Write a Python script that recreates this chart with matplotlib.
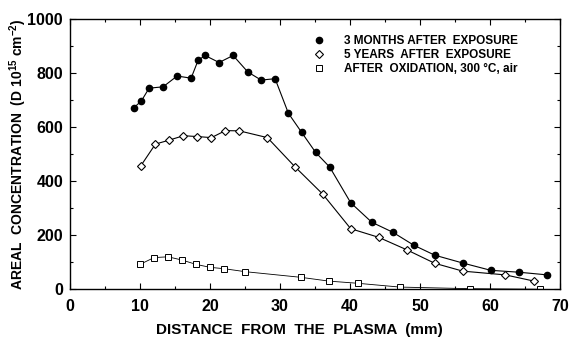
import matplotlib
matplotlib.use("Agg")
import matplotlib.pyplot as plt
from matplotlib.ticker import MultipleLocator

plt.rcParams['font.family'] = ['Liberation Sans', 'DejaVu Sans']
plt.rcParams['mathtext.fontset'] = 'custom'
plt.rcParams['mathtext.rm'] = 'Liberation Sans:bold'
plt.rcParams['mathtext.it'] = 'Liberation Sans:bold'
plt.rcParams['mathtext.bf'] = 'Liberation Sans:bold'

x_3m = [9.1, 10.2, 11.3, 13.3, 15.3, 17.3, 18.3, 19.3, 21.3, 23.3, 25.4, 27.3, 29.3,
        31.2, 33.1, 35.1, 37.1, 40.1, 43.1, 46.1, 49.1, 52.1, 56.1, 60.1, 64.1, 68.2]
y_3m = [672, 698, 745, 750, 790, 782, 848, 866, 840, 866, 805, 775, 780,
        652, 581, 507, 453, 321, 249, 212, 164, 127, 98, 71, 64, 54]

x_5y = [10.1, 12.2, 14.2, 16.2, 18.2, 20.2, 22.2, 24.2, 28.2, 32.1, 36.1,
        40.1, 44.1, 48.1, 52.1, 56.1, 62.2, 66.3]
y_5y = [457, 538, 553, 569, 566, 562, 588, 587, 562, 455, 353,
        225, 193, 147, 97, 68, 54, 31]

x_ox = [10, 12, 14, 16, 18, 20, 22, 25, 33, 37, 41.1, 47.1, 57.1, 67.2]
y_ox = [93, 118, 121, 109, 93, 82, 77, 66, 45, 31, 23, 9, 3, 1]

labels = ['3 MONTHS AFTER  EXPOSURE', '5 YEARS  AFTER  EXPOSURE',
          'AFTER  OXIDATION, 300 \u00b0C, air']

fig = plt.figure(figsize=(5.7, 3.38), dpi=100)
ax = fig.add_axes([0.1228, 0.1435, 0.8597, 0.7995])

lw = 0.8
ax.plot(x_3m, y_3m, '-o', color='black', lw=lw, ms=4.5, mfc='black', mec='black', label=labels[0])
ax.plot(x_5y, y_5y, '-D', color='black', lw=lw, ms=4.5, mfc='white', mec='black', mew=0.8, label=labels[1])
ax.plot(x_ox, y_ox, '-s', color='black', lw=0.6, ms=4, mfc='white', mec='black', mew=0.7, label=labels[2])

ax.set_xlim(0, 70)
ax.set_ylim(0, 1000)
ax.xaxis.set_major_locator(MultipleLocator(10))
ax.xaxis.set_minor_locator(MultipleLocator(5))
ax.yaxis.set_major_locator(MultipleLocator(200))
ax.yaxis.set_minor_locator(MultipleLocator(100))
ax.tick_params(which='both', direction='in', top=True, right=True, width=0.8)
ax.tick_params(which='major', length=4, labelsize=11.5)
ax.tick_params(axis='x', which='major', pad=7)
ax.tick_params(axis='y', which='major', pad=5)
ax.tick_params(which='minor', length=2.5)
for lab in ax.get_xticklabels() + ax.get_yticklabels():
    lab.set_fontweight('bold')
for s in ax.spines.values():
    s.set_linewidth(1.0)

ax.set_xlabel('DISTANCE  FROM  THE  PLASMA  (mm)', fontsize=11, fontweight='bold')
ax.xaxis.set_label_coords(0.469, -0.15, transform=ax.transAxes)
ax.xaxis.label.set_va('center')
ax.set_ylabel('AREAL  CONCENTRATION  (D 10$^{15}$ cm$^{-2}$)', fontsize=10, fontweight='bold')
ax.yaxis.set_label_coords(-0.106, 0.5, transform=ax.transAxes)
ax.yaxis.label.set_va('center')

leg = ax.legend(loc='upper left', bbox_to_anchor=(0.497, 0.942), frameon=False,
                prop={'weight': 'bold', 'size': 8.5}, handlelength=1.0,
                handletextpad=1.6, labelspacing=0.16, borderaxespad=0, borderpad=0)
for h in leg.legend_handles:
    h.set_linestyle('none')

fig.savefig('out.png', dpi=100)
